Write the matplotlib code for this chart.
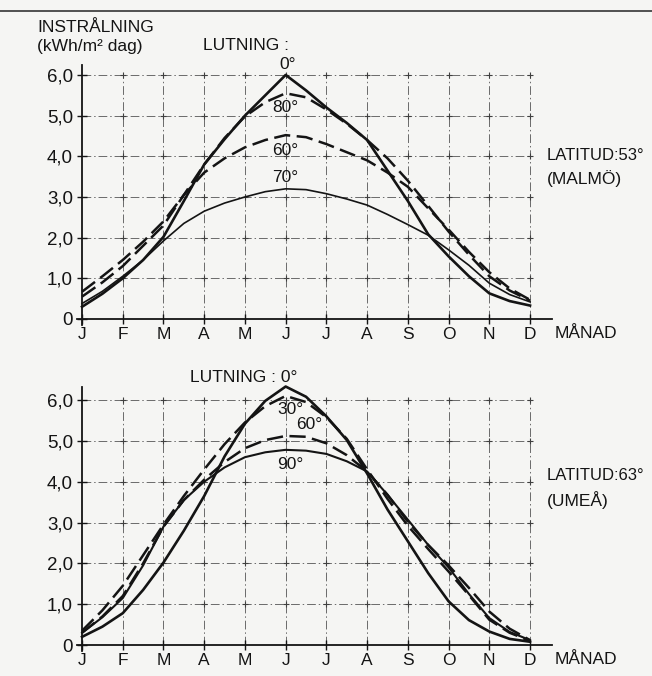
import numpy as np
import matplotlib
matplotlib.use('Agg')
import matplotlib.pyplot as plt
from matplotlib.lines import Line2D

plt.rcParams['font.family'] = ['Liberation Sans', 'DejaVu Sans']

# ---------------- data (half-month sample points, month index 0=Jan .. 11=Dec)
months = ['J', 'F', 'M', 'A', 'M', 'J', 'J', 'A', 'S', 'O', 'N', 'D']
month_pos = [0, 0.5, 1, 1.5, 2, 2.5, 3, 3.5, 4, 4.5, 5, 5.5,
             6, 6.5, 7, 7.5, 8, 8.5, 9, 9.5, 10, 10.5, 11]
y_ticks = [0, 1, 2, 3, 4, 5, 6]
y_ticklabels = ['0', '1,0', '2,0', '3,0', '4,0', '5,0', '6,0']

# Malmö, latitude 53°
malmo_0 = [0.30, 0.62, 1.00, 1.45, 2.02, 2.90, 3.80, 4.42, 5.00, 5.50, 6.00, 5.62,
           5.20, 4.82, 4.40, 3.65, 2.90, 2.08, 1.54, 1.05, 0.63, 0.44, 0.33]
malmo_80 = [0.55, 0.90, 1.30, 1.80, 2.30, 3.05, 3.80, 4.45, 4.98, 5.33, 5.55, 5.45,
            5.15, 4.80, 4.40, 3.95, 3.40, 2.78, 2.15, 1.58, 1.05, 0.70, 0.45]
malmo_60 = [0.67, 1.05, 1.45, 1.90, 2.40, 3.05, 3.60, 3.95, 4.22, 4.40, 4.52, 4.47,
            4.30, 4.10, 3.90, 3.60, 3.25, 2.72, 2.20, 1.65, 1.15, 0.75, 0.47]
malmo_70 = [0.38, 0.68, 1.05, 1.45, 1.92, 2.35, 2.65, 2.85, 3.00, 3.13, 3.20, 3.18,
            3.08, 2.95, 2.80, 2.57, 2.32, 2.06, 1.70, 1.32, 0.88, 0.60, 0.42]

# Umeå, latitude 63°
umea_0 = [0.20, 0.45, 0.78, 1.35, 2.02, 2.80, 3.65, 4.62, 5.42, 5.98, 6.33, 6.08,
          5.60, 5.02, 4.20, 3.32, 2.54, 1.76, 1.07, 0.61, 0.33, 0.15, 0.08]
umea_30 = [0.35, 0.85, 1.45, 2.20, 2.95, 3.65, 4.30, 4.92, 5.45, 5.85, 6.10, 5.95,
           5.58, 5.05, 4.30, 3.58, 2.92, 2.35, 1.80, 1.22, 0.62, 0.30, 0.10]
umea_60 = [0.30, 0.70, 1.20, 2.00, 2.90, 3.55, 4.05, 4.48, 4.82, 5.02, 5.12, 5.10,
           4.94, 4.65, 4.25, 3.68, 3.02, 2.45, 1.95, 1.40, 0.82, 0.40, 0.12]
umea_90 = [0.30, 0.68, 1.15, 1.95, 2.90, 3.55, 4.00, 4.35, 4.60, 4.72, 4.78, 4.76,
           4.68, 4.50, 4.25, 3.68, 3.07, 2.45, 1.90, 1.25, 0.66, 0.32, 0.12]

# ---------------- figure
BG = '#f5f5f3'
INK = '#141414'
W, H = 652, 676
fig = plt.figure(figsize=(W / 100, H / 100), dpi=100, facecolor=BG)

def fx(px):
    return px / W

def fy(py):
    return 1 - py / H

# scanner edge line at the top
fig.add_artist(Line2D([0, 1], [fy(11), fy(11)], color='#505050', lw=1.4))

ax1 = fig.add_axes([0.1071, 0.5101, 0.7558, 0.4031])
ax2 = fig.add_axes([0.1071, 0.0277, 0.7558, 0.4168])

grid_ls = (0, (9, 3, 1.5, 3))

def setup(ax, ytop, ybound):
    ax.set_facecolor('none')
    ax.set_xlim(-0.3, 11.8)
    ax.set_ylim(-0.3, ytop)
    for s in ('top', 'right'):
        ax.spines[s].set_visible(False)
    ax.spines['left'].set_position(('data', 0))
    ax.spines['bottom'].set_position(('data', 0))
    ax.spines['left'].set_bounds(-0.15, ybound)
    ax.spines['bottom'].set_bounds(-0.12, 11.55)
    for s in ('left', 'bottom'):
        ax.spines[s].set_color(INK)
        ax.spines[s].set_linewidth(1.3)
    ax.set_xticks(range(12))
    ax.set_xticklabels(months)
    ax.set_yticks(y_ticks)
    ax.set_yticklabels(y_ticklabels)
    ax.tick_params(axis='both', direction='inout', length=7, width=1.0,
                   colors=INK, labelsize=12.5)
    ax.tick_params(axis='y', labelsize=13.5, pad=3)
    ax.tick_params(axis='x', pad=2)
    for i in range(1, 12):
        ax.plot([i, i], [0, 6], color='#6a6a6a', lw=0.7, ls=grid_ls, zorder=1)
    for j in range(1, 7):
        ax.plot([0, 11], [j, j], color='#6a6a6a', lw=0.7, ls=grid_ls, zorder=1)
    gx, gy = np.meshgrid(np.arange(1, 12), np.arange(1, 7))
    ax.plot(gx.ravel(), gy.ravel(), '+', ms=4.5, mew=0.8, color='#404040', zorder=1)

setup(ax1, 6.4, 6.25)
setup(ax2, 6.6, 6.32)

long_dash = (0, (6.5, 2.6))

# top chart curves
ax1.plot(month_pos, malmo_0, color=INK, lw=1.9, zorder=3)
ax1.plot(month_pos, malmo_80, color=INK, lw=1.8, ls=long_dash, zorder=3)
ax1.plot(month_pos, malmo_60, color=INK, lw=1.8, ls=long_dash, zorder=3)
ax1.plot(month_pos, malmo_70, color=INK, lw=1.2, zorder=3)

# bottom chart curves
ax2.plot(month_pos, umea_0, color=INK, lw=1.9, zorder=3)
ax2.plot(month_pos, umea_30, color=INK, lw=1.8, ls=long_dash, zorder=3)
ax2.plot(month_pos, umea_60, color=INK, lw=1.8, ls=long_dash, zorder=3)
ax2.plot(month_pos, umea_90, color=INK, lw=1.5, zorder=3)

fs = 12.5
# curve labels
ax1.text(5.05, 6.25, '0°', ha='center', va='center', fontsize=fs, color=INK)
ax1.text(5.0, 5.2, '80°', ha='center', va='center', fontsize=fs, color=INK)
ax1.text(5.0, 4.15, '60°', ha='center', va='center', fontsize=fs, color=INK)
ax1.text(5.0, 3.48, '70°', ha='center', va='center', fontsize=fs, color=INK)

ax2.text(5.11, 5.76, '30°', ha='center', va='center', fontsize=fs, color=INK)
ax2.text(5.58, 5.39, '60°', ha='center', va='center', fontsize=fs, color=INK)
ax2.text(5.11, 4.41, '90°', ha='center', va='center', fontsize=fs, color=INK)

# figure texts
fig.text(fx(37), fy(28), 'INSTRÅLNING', ha='left', va='center', fontsize=fs, color=INK)
fig.text(fx(37), fy(46), '(kWh/m² dag)', ha='left', va='center', fontsize=fs, color=INK)
fig.text(fx(203), fy(46), 'LUTNING :', ha='left', va='center', fontsize=fs, color=INK)
fig.text(fx(547), fy(156), 'LATITUD:53°', ha='left', va='center', fontsize=12, color=INK)
fig.text(fx(547), fy(179), '(MALMÖ)', ha='left', va='center', fontsize=fs, color=INK)
fig.text(fx(555), fy(333), 'MÅNAD', ha='left', va='center', fontsize=fs, color=INK)

fig.text(fx(190), fy(378), 'LUTNING : 0°', ha='left', va='center', fontsize=fs, color=INK)
fig.text(fx(547), fy(476), 'LATITUD:63°', ha='left', va='center', fontsize=12, color=INK)
fig.text(fx(547), fy(500), '(UMEÅ)', ha='left', va='center', fontsize=fs, color=INK)
fig.text(fx(555), fy(660), 'MÅNAD', ha='left', va='center', fontsize=fs, color=INK)

fig.savefig('out.png', dpi=100, facecolor=BG)
